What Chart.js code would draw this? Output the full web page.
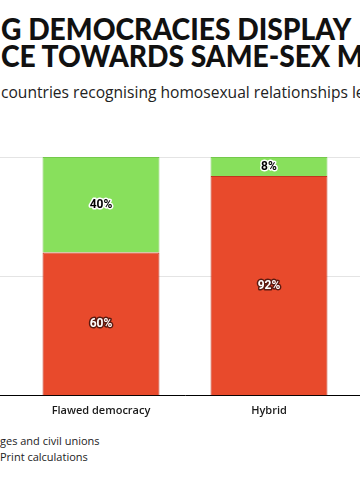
<!DOCTYPE html>
<html>
<head>
<meta charset="utf-8">
<script src="https://cdn.jsdelivr.net/npm/chart.js@4.4.1/dist/chart.umd.min.js"></script>
<style>
    html, body { margin: 0; padding: 0; background: #fff; }
    body { width: 360px; height: 479px; position: relative; overflow: hidden; }
    .title {
        position: absolute; left: 1px; top: 15px; white-space: nowrap;
        font-family: Lato, sans-serif; font-weight: 900; font-size: 31px;
        line-height: 27px; color: #111;
        transform: scaleX(0.91); transform-origin: left top;
    }
    .subtitle {
        position: absolute; left: 1px; top: 81px; white-space: nowrap;
        font-family: "Open Sans", sans-serif; font-size: 15.6px; color: #222;
    }
    .footer {
        position: absolute; left: 0px; top: 433px; white-space: nowrap;
        font-family: "Open Sans", sans-serif; font-size: 11px; line-height: 16px; color: #222;
    }
    #wrap { position: absolute; left: -151px; top: 150px; width: 672px; height: 275px; }
</style>
</head>
<body>
<div class="title">G DEMOCRACIES DISPLAY<br>CE TOWARDS SAME-SEX MARRIAGE</div>
<div class="subtitle">countries recognising homosexual relationships le</div>
<div class="footer">ges and civil unions<br>Print calculations</div>
<div id="wrap"><canvas id="chart"></canvas></div>
<script>
// categories (outer two fall outside the visible crop)
const categories = ['', 'Flawed democracy', 'Hybrid', ''];
const notRecognising = [null, 60, 92, null];
const recognising = [null, 40, 8, null];
const yTicks = [0, 50, 100];

// draws the "60%" style labels in the middle of each segment
const segmentLabels = {
    id: 'segmentLabels',
    afterDatasetsDraw(chart) {
        const ctx = chart.ctx;
        ctx.save();
        ctx.font = 'bold 12px Roboto, sans-serif';
        ctx.textAlign = 'center';
        ctx.textBaseline = 'middle';
        ctx.lineJoin = 'round';
        chart.data.datasets.forEach((ds, i) => {
            const meta = chart.getDatasetMeta(i);
            meta.data.forEach((bar, j) => {
                const v = ds.data[j];
                if (v == null) return;
                const { x, y, base } = bar.getProps(['x', 'y', 'base'], true);
                const cy = (y + base) / 2;
                const txt = v + '%';
                ctx.lineWidth = 3;
                ctx.strokeStyle = ds.labelStroke;
                ctx.strokeText(txt, x, cy);
                ctx.fillStyle = ds.labelColor;
                ctx.fillText(txt, x, cy);
            });
        });
        ctx.restore();
    }
};

new Chart(document.getElementById('chart'), {
    type: 'bar',
    data: {
        labels: categories,
        datasets: [
            {
                label: 'Not recognising',
                data: notRecognising,
                backgroundColor: '#e84a2c',
                borderColor: '#c2361d',
                borderWidth: 1,
                labelColor: '#ffffff',
                labelStroke: '#5a1a10'
            },
            {
                label: 'Recognising',
                data: recognising,
                backgroundColor: '#88e05c',
                borderColor: '#74c94b',
                borderWidth: 1,
                labelColor: '#000000',
                labelStroke: '#ffffff'
            }
        ]
    },
    options: {
        responsive: true,
        maintainAspectRatio: false,
        animation: false,
        categoryPercentage: 1,
        barPercentage: 0.696,
        layout: { padding: { top: 7, left: 0, right: 0, bottom: 0 } },
        scales: {
            x: {
                stacked: true,
                grid: { display: false, drawTicks: false },
                border: { display: true, color: '#000000', width: 1 },
                ticks: { padding: 8, color: '#1a1a1a', font: { family: '"Open Sans", sans-serif', size: 11, weight: '600' } }
            },
            y: {
                stacked: true,
                min: 0,
                max: 100,
                afterBuildTicks: axis => { axis.ticks = yTicks.map(v => ({ value: v })); },
                ticks: { display: false },
                grid: { color: '#e4e4e4', drawTicks: false },
                border: { display: false }
            }
        },
        plugins: {
            legend: { display: false },
            tooltip: { enabled: false }
        }
    },
    plugins: [segmentLabels]
});
</script>
</body>
</html>
